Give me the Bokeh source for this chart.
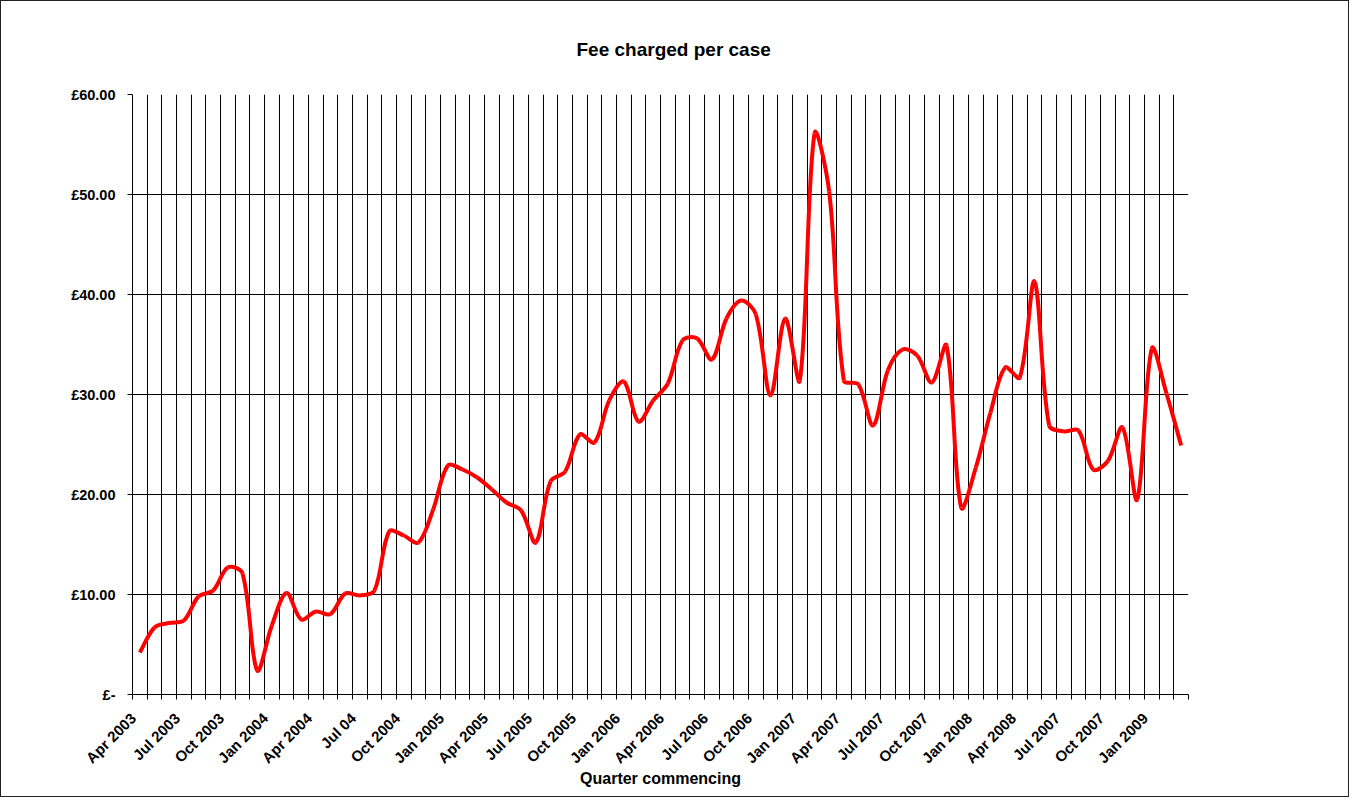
import math
from bokeh.plotting import figure
from bokeh.models import Range1d, FixedTicker, ColumnDataSource
from bokeh.embed import file_html
from bokeh.resources import INLINE

# ---- data ----
quarter_labels = ["Apr 2003", "Jul 2003", "Oct 2003", "Jan 2004", "Apr 2004", "Jul 04",
                  "Oct 2004", "Jan 2005", "Apr 2005", "Jul 2005", "Oct 2005", "Jan 2006",
                  "Apr 2006", "Jul 2006", "Oct 2006", "Jan 2007", "Apr 2007", "Jul 2007",
                  "Oct 2007", "Jan 2008", "Apr 2008", "Jul 2007", "Oct 2007", "Jan 2009"]

fee = [4.2, 6.7, 7.15, 7.4, 9.8, 10.4, 12.7, 12.1, 2.4, 6.9, 10.15, 7.5,
       8.3, 8.05, 10.1, 9.9, 10.4, 16.3, 15.9, 15.2, 18.5, 22.9, 22.5, 21.7,
       20.5, 19.2, 18.4, 15.2, 21.3, 22.3, 26.0, 25.2, 29.4, 31.3, 27.3, 29.4,
       31.1, 35.4, 35.6, 33.5, 37.6, 39.4, 38.0, 29.9, 37.6, 31.4, 56.1, 50.3,
       31.4, 31.0, 26.9, 32.4, 34.5, 33.9, 31.2, 34.9, 18.7, 22.7, 28.2, 32.7,
       31.7, 41.3, 26.9, 26.3, 26.4, 22.5, 23.35, 26.7, 19.5, 34.6, 30.1, 24.9]

y_ticks = [0, 10, 20, 30, 40, 50, 60]
y_tick_labels = ["£-", "£10.00", "£20.00", "£30.00", "£40.00", "£50.00", "£60.00"]

title_text = "Fee charged per case"
x_title = "Quarter commencing"

# ---- derived positions (category centres) ----
n = len(fee)
xc = [i + 0.5 for i in range(n)]
step = n // len(quarter_labels)

# Excel-like smoothed line: cubic bezier segments through the data points,
# tangents weighted by neighbouring segment lengths measured on screen
SX, SY = 1056 / n, 600 / 60   # px per x unit, px per y unit (for weighting only)


def dist(a, b):
    return math.hypot((xc[a] - xc[b]) * SX, (fee[a] - fee[b]) * SY)


seg = dict(x0=[], y0=[], x1=[], y1=[], cx0=[], cy0=[], cx1=[], cy1=[])
for i in range(n - 1):
    pm = max(i - 1, 0)
    pp = min(i + 2, n - 1)
    d01, d12, d23 = dist(pm, i), dist(i, i + 1), dist(i + 1, pp)
    f1 = (d12 / (d01 + d12)) / 3 if d01 + d12 > 0 else 0
    f2 = (d12 / (d12 + d23)) / 3 if d12 + d23 > 0 else 0
    seg["x0"].append(xc[i]); seg["y0"].append(fee[i])
    seg["x1"].append(xc[i + 1]); seg["y1"].append(fee[i + 1])
    seg["cx0"].append(xc[i] + (xc[i + 1] - xc[pm]) * f1)
    seg["cy0"].append(fee[i] + (fee[i + 1] - fee[pm]) * f1)
    seg["cx1"].append(xc[i + 1] - (xc[pp] - xc[i]) * f2)
    seg["cy1"].append(fee[i + 1] - (fee[pp] - fee[i]) * f2)
src = ColumnDataSource(seg)

FONT = "Liberation Sans"

p = figure(width=1349, height=797,
           x_range=Range1d(0, n), y_range=Range1d(0, 60),
           output_backend="svg", toolbar_location=None,
           min_border_left=132, min_border_right=161,
           min_border_top=94, min_border_bottom=103)

p.background_fill_color = "white"
p.border_fill_color = None
p.outline_line_color = None
p.styles = {"box-shadow": "inset 0 0 0 1px #222222", "background-color": "white"}

# title
p.title.text = title_text
p.title.align = "left"
p.title.offset = 444
p.title.text_font = FONT
p.title.text_font_size = "19px"
p.title.text_font_style = "bold"
p.title.text_color = "black"
p.title.standoff = 70

# grids
p.xgrid.ticker = FixedTicker(ticks=list(range(n + 1)))
p.xgrid.grid_line_color = "black"
p.xgrid.grid_line_width = 1
p.ygrid.ticker = FixedTicker(ticks=y_ticks)
p.ygrid.grid_line_color = "black"
p.ygrid.grid_line_width = 1

# x axis: labels near every third category centre, ticks at category boundaries
label_shift = 0.45
label_pos = [k * step + 0.5 - label_shift for k in range(len(quarter_labels))]
xa = p.xaxis[0]
xa.ticker = FixedTicker(ticks=label_pos, minor_ticks=list(range(n + 1)))
xa.major_label_overrides = {pos: lab for pos, lab in zip(label_pos, quarter_labels)}
xa.major_label_orientation = math.pi / 4
xa.major_tick_in = 0
xa.major_tick_out = 0
xa.minor_tick_in = 0
xa.minor_tick_out = 5
xa.minor_tick_line_color = "black"
xa.axis_line_color = "black"
xa.major_label_text_font = FONT
xa.major_label_text_font_style = "bold"
xa.major_label_text_font_size = "15px"
xa.major_label_text_color = "black"
xa.major_label_standoff = 16
xa.axis_label = x_title
xa.axis_label_text_font = FONT
xa.axis_label_text_font_style = "bold"
xa.axis_label_text_font_size = "16px"
xa.axis_label_text_color = "black"
xa.axis_label_standoff = -5

# y axis
ya = p.yaxis[0]
ya.ticker = FixedTicker(ticks=y_ticks)
ya.major_label_overrides = {t: lab for t, lab in zip(y_ticks, y_tick_labels)}
ya.major_tick_in = 0
ya.major_tick_out = 5
ya.minor_tick_out = 0
ya.minor_tick_in = 0
ya.axis_line_color = "black"
ya.major_tick_line_color = "black"
ya.major_label_text_font = FONT
ya.major_label_text_font_style = "bold"
ya.major_label_text_font_size = "14.5px"
ya.major_label_text_color = "black"
ya.major_label_standoff = 12

# smoothed fee line
p.bezier(x0="x0", y0="y0", x1="x1", y1="y1", cx0="cx0", cy0="cy0", cx1="cx1", cy1="cy1",
         source=src, line_color="#FF0000", line_width=4)

open("out.html", "w").write(file_html(p, INLINE))
